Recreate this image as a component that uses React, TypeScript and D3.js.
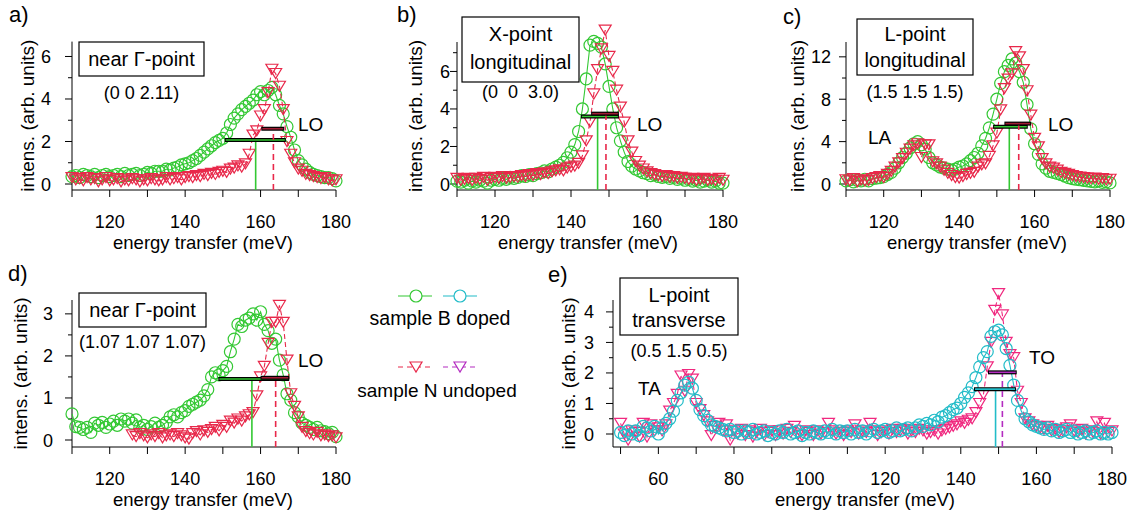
import React from 'react';
import * as d3 from 'd3';

// no serif face is installed, so a sans with Arial metrics stands in for Times
const FONT = "'Liberation Sans', Arial, sans-serif";
const GREEN = '#33c833';
const RED = '#e8284a';
const CYAN = '#22bcc8';
const PINK = '#f0287f';
const PURPLE = '#b42cc0';

// scan energies (meV)
const scanHigh = [110, 111, 112, 113, 114, 115, 116, 117, 118, 119, 120, 121, 122, 123, 124, 125, 126, 127, 128, 129,
  130, 131, 132, 133, 134, 135, 136, 137, 138, 139, 140, 141, 142, 143, 144, 145, 146, 147, 148, 149,
  150, 151, 152, 153, 154, 155, 156, 157, 158, 159, 160, 161, 162, 163, 164, 165, 166, 167, 168, 169,
  170, 171, 172, 173, 174, 175, 176, 177, 178, 179, 180];
const scanWide = [50, 51, 52, 53, 54, 55, 56, 57, 58, 59, 60, 61, 62, 63, 64, 65, 66, 67, 68, 69,
  70, 71, 72, 73, 74, 75, 76, 77, 78, 79, 80, 81, 82, 83, 84, 85, 86, 87, 88, 89,
  90, 91, 92, 93, 94, 95, 96, 97, 98, 99, 100, 101, 102, 103, 104, 105, 106, 107, 108, 109,
  ...scanHigh];

// a) near Gamma (0 0 2.11)
const aDoped = [0.35, 0.4, 0.3, 0.45, 0.4, 0.35, 0.45, 0.3, 0.4, 0.45,
  0.35, 0.4, 0.45, 0.35, 0.5, 0.4, 0.45, 0.5, 0.4, 0.45,
  0.55, 0.5, 0.6, 0.6, 0.6, 0.7, 0.66, 0.75, 0.8, 0.9,
  0.95, 1.0, 1.1, 1.2, 1.35, 1.5, 1.65, 1.8, 1.95, 2.05,
  2.15, 2.4, 2.8, 3.1, 3.3, 3.5, 3.65, 3.8, 3.95, 4.2,
  4.35, 4.2, 4.4, 4.55, 4.2, 3.7, 3.3, 2.7, 2.2, 1.6,
  1.1, 0.9, 0.7, 0.55, 0.45, 0.4, 0.35, 0.3, 0.3, 0.25,
  0.15];
const aUndoped = [0.3, 0.2, 0.25, 0.15, 0.3, 0.2, 0.25, 0.1, 0.2, 0.3,
  0.15, 0.2, 0.25, 0.1, 0.2, 0.15, 0.25, 0.2, 0.1, 0.2,
  0.15, 0.25, 0.2, 0.15, 0.2, 0.3, 0.2, 0.25, 0.3, 0.2,
  0.3, 0.35, 0.3, 0.4, 0.35, 0.45, 0.4, 0.5, 0.45, 0.55,
  0.6, 0.55, 0.7, 0.75, 0.85, 0.8, 0.95, 1.4, 2.3, 2.5,
  3.2, 3.5, 4.3, 5.4, 5.2, 4.6, 3.5, 2.0, 1.4, 1.0,
  0.7, 0.6, 0.45, 0.4, 0.35, 0.3, 0.25, 0.3, 0.2, 0.15,
  0.2];
// [from, to, height] of the width bars, and fitted peak energies (doped, undoped)
const aWidths = [[150.5, 166.7, 2.07], [160.2, 166.3, 2.6]];
const aPeaks = [158.7, 163.4];

// b) X-point longitudinal (0 0 3.0)
const bDoped = [0.15, 0.1, 0.2, 0.05, 0.15, 0.1, 0.2, 0.15, 0.05, 0.2,
  0.25, 0.2, 0.3, 0.25, 0.35, 0.3, 0.35, 0.45, 0.4, 0.5,
  0.45, 0.55, 0.6, 0.7, 0.65, 0.8, 0.9, 1.0, 1.15, 1.4,
  1.7, 2.1, 2.8, 4.0, 5.6, 7.4, 7.6, 7.5, 7.3, 6.4,
  5.2, 4.0, 3.0, 2.3, 1.7, 1.2, 0.95, 0.8, 0.7, 0.6,
  0.55, 0.45, 0.5, 0.4, 0.35, 0.4, 0.3, 0.35, 0.25, 0.3,
  0.2, 0.25, 0.15, 0.2, 0.1, 0.15, 0.2, 0.1, 0.15, 0.05,
  0.05];
const bUndoped = [0.3, 0.2, 0.25, 0.3, 0.2, 0.3, 0.25, 0.35, 0.2, 0.3,
  0.35, 0.3, 0.4, 0.3, 0.35, 0.4, 0.35, 0.45, 0.4, 0.5,
  0.45, 0.55, 0.5, 0.6, 0.55, 0.65, 0.7, 0.75, 0.7, 0.85,
  0.9, 0.95, 1.1, 1.5, 2.3, 3.3, 4.8, 6.1, 7.2, 8.2,
  6.8, 6.0, 5.0, 4.1, 3.3, 2.3, 1.7, 1.2, 0.95, 0.8,
  0.65, 0.55, 0.5, 0.45, 0.4, 0.45, 0.35, 0.4, 0.3, 0.35,
  0.3, 0.25, 0.3, 0.2, 0.25, 0.3, 0.2, 0.25, 0.2, 0.3,
  0.2];
const bWidths = [[142.6, 152.6, 3.6], [145.3, 152.6, 3.75]];
const bPeaks = [147, 149.2];

// c) L-point longitudinal (1.5 1.5 1.5)
const cDoped = [0.3, 0.4, 0.2, 0.35, 0.3, 0.45, 0.3, 0.5, 0.55, 0.6,
  0.7, 0.9, 1.1, 1.5, 2.0, 2.5, 2.9, 3.4, 3.8, 4.0,
  3.7, 3.3, 2.5, 2.0, 1.8, 1.6, 1.5, 1.4, 1.3, 1.4,
  1.6, 1.7, 1.9, 2.2, 2.5, 2.9, 3.6, 4.3, 5.3, 6.6,
  8.0, 9.5, 10.6, 11.2, 11.8, 11.4, 10.6, 9.6, 7.5, 5.2,
  3.8, 2.8, 1.9, 1.5, 1.2, 1.1, 1.0, 0.9, 0.75, 0.6,
  0.5, 0.45, 0.4, 0.35, 0.3, 0.25, 0.2, 0.3, 0.15, 0.2,
  0.1];
const cUndoped = [0.4, 0.3, 0.5, 0.2, 0.4, 0.3, 0.35, 0.5, 0.6, 0.7,
  0.6, 0.9, 1.2, 1.6, 2.0, 2.4, 2.9, 3.3, 3.6, 3.8,
  2.5, 3.7, 3.7, 2.1, 1.9, 1.6, 1.3, 1.0, 0.8, 0.6,
  0.55, 0.7, 0.9, 1.0, 1.1, 1.6, 1.8, 1.9, 2.6, 3.6,
  4.8, 7.0, 9.0, 9.9, 10.4, 12.5, 12.0, 10.8, 8.8, 6.5,
  4.3, 3.5, 2.4, 1.9, 1.6, 1.5, 1.3, 1.1, 1.0, 0.9,
  0.8, 0.7, 0.65, 0.6, 0.55, 0.5, 0.55, 0.45, 0.5, 0.4,
  0.45];
const cWidths = [[149, 158.2, 5.4], [152, 159.1, 5.7]];
const cPeaks = [153.3, 155.8];

// d) near Gamma (1.07 1.07 1.07); undoped scan starts at 126 meV
const dDoped = [0.62, 0.32, 0.3, 0.25, 0.3, 0.18, 0.4, 0.35, 0.42, 0.3,
  0.38, 0.45, 0.35, 0.5, 0.45, 0.5, 0.4, 0.48, 0.3, 0.35,
  0.25, 0.32, 0.4, 0.3, 0.35, 0.42, 0.55, 0.6, 0.55, 0.65,
  0.7, 0.8, 0.85, 0.9, 0.95, 1.05, 1.2, 1.5, 1.6, 1.55,
  1.65, 1.75, 2.1, 2.4, 2.75, 2.7, 2.85, 2.9, 3.0, 2.85,
  3.05, 2.75, 2.6, 2.3, 2.4, 1.9, 1.55, 1.1, 0.95, 0.65,
  0.55, 0.4, 0.35, 0.3, 0.25, 0.3, 0.22, 0.2, 0.15, 0.18,
  0.08];
const dUndoped = [0.12, 0.08, 0.15, 0.1,
  0.05, 0.12, 0.08, 0.15, 0.05, 0.1, 0.12, 0.08, 0.15, 0.1,
  0.05, 0.02, 0.15, 0.2, 0.12, 0.22, 0.18, 0.25, 0.3, 0.22,
  0.35, 0.3, 0.45, 0.4, 0.5, 0.45, 0.55, 0.6, 0.65, 1.05,
  1.5, 1.75, 2.3, 2.8, 2.8, 3.2, 2.8, 1.9, 1.1, 0.8,
  0.55, 0.3, 0.2, 0.15, 0.12, 0.18, 0.1, 0.12, 0.08, 0.1,
  0.05];
const dWidths = [[148.8, 167.6, 1.45], [160, 167.6, 1.48]];
const dPeaks = [157.7, 164];

// e) L-point transverse (0.5 1.5 0.5)
const eDoped = [0.05, -0.05, 0.1, 0.0, 0.1, -0.05, 0.25, 0.2, 0.1, 0.25,
  0.0, 0.2, 0.35, 0.5, 0.75, 1.1, 1.35, 1.6, 1.7, 1.5,
  1.1, 0.8, 0.6, 0.45, 0.3, 0.25, 0.2, 0.15, 0.1, 0.15,
  0.05, 0.1, 0.0, 0.1, 0.05, 0.15, 0.0, 0.05, 0.1, -0.05,
  0.05, 0.0, 0.1, 0.05, 0.15, 0.0, 0.05, 0.1, -0.05, 0.05,
  0.0, 0.1, 0.05, 0.0, 0.1, 0.05, 0.15, 0.0, 0.1, 0.05,
  0.1, 0.0, 0.15, 0.05, 0.1, 0.0, 0.1, 0.15, 0.05, 0.1,
  0.15, 0.05, 0.1, 0.2, 0.1, 0.15, 0.2, 0.1, 0.2, 0.3,
  0.25, 0.35, 0.3, 0.45, 0.4, 0.55, 0.6, 0.7, 0.8, 0.85,
  1.0, 1.2, 1.35, 1.55, 1.85, 2.2, 2.5, 2.7, 3.2, 3.35,
  3.4, 3.25, 2.8, 2.25, 1.6, 1.1, 0.75, 0.5, 0.4, 0.3,
  0.25, 0.2, 0.15, 0.2, 0.1, 0.15, 0.05, 0.1, 0.15, 0.05,
  0.1, 0.0, 0.05, 0.1, 0.0, 0.05, 0.1, 0.0, 0.05, 0.0,
  0.05];
const eUndoped = [0.35, 0.0, -0.2, 0.1, 0.05, -0.1, 0.35, -0.1, 0.3, 0.1,
  0.2, 0.1, 0.3, 0.75, 1.0, 1.3, 1.9, 1.4, 1.95, 1.8,
  1.0, 0.8, 0.6, 0.4, -0.05, 0.25, 0.35, 0.1, 0.3, -0.2,
  0.1, 0.0, 0.15, -0.05, 0.1, -0.1, 0.05, 0.15, -0.05, 0.05,
  0.1, -0.05, 0.1, 0.0, 0.15, 0.05, 0.25, 0.0, -0.05, 0.1,
  0.05, -0.05, 0.1, 0.0, 0.05, 0.35, 0.1, 0.0, 0.05, -0.05,
  0.1, 0.05, 0.3, 0.0, 0.1, 0.05, 0.35, 0.1, -0.05, 0.05,
  0.1, 0.0, 0.15, 0.05, 0.1, 0.15, 0.0, 0.1, 0.05, 0.15,
  0.1, 0.0, 0.05, 0.1, 0.0, 0.1, 0.15, 0.2, 0.25, 0.3,
  0.4, 0.35, 0.45, 0.5, 0.7, 1.0, 1.3, 2.2, 3.0, 4.05,
  4.6, 3.9, 3.0, 2.6, 2.5, 1.4, 1.0, 0.5, 0.4, 0.3,
  0.25, 0.2, 0.15, 0.25, 0.1, 0.15, 0.05, 0.1, 0.2, 0.3,
  0.1, 0.05, 0.15, 0.0, 0.1, 0.05, 0.4, 0.0, 0.35, 0.05,
  0.1];
const eWidths = [[143.5, 154.6, 1.47], [147.2, 154.8, 2.02]];
const ePeaks = [149.2, 151];

const tickHigh = [110, 120, 130, 140, 150, 160, 170, 180];
const labelHigh = [120, 140, 160, 180];
const tickWide = [50, 60, 70, 80, 90, 100, 110, 120, 130, 140, 150, 160, 170, 180];
const labelWide = [60, 80, 100, 120, 140, 160, 180];

type Series = { e: number[]; v: number[]; marker: 'circle' | 'tri'; color: string; dashed: boolean };
type Note = { text: string; x: number; y: number };

interface PanelSpec {
  tag: string; tagX: number; tagY: number;
  xDomain: [number, number]; xRange: [number, number];
  yDomain: [number, number]; yRange: [number, number];
  axisY: number;
  xTicks: number[]; xLabels: number[];
  yMajor: number[]; yMinor: number[];
  yLabelEnd: number; yTitleX: number;
  tickLabelY: number; xTitleX: number; xTitleY: number;
  series: Series[];
  widths: number[][]; peaks: number[]; barColors: string[]; lineColors: string[];
  box: [number, number, number, number]; boxLines: string[]; boxBase: number[];
  hkl: string; hklY: number;
  notes: Note[];
}

const triPath = 'M-6,-5L6,-5L0,5Z';

function Panel({ p }: { p: PanelSpec }) {
  const x = d3.scaleLinear().domain(p.xDomain).range(p.xRange);
  const y = d3.scaleLinear().domain(p.yDomain).range(p.yRange);
  const yTop = p.yRange[1];
  const boxCx = p.box[0] + p.box[2] / 2;
  return (
    <g>
      <text x={p.tagX} y={p.tagY} fontSize={22}>{p.tag}</text>
      {/* axes */}
      <line x1={p.xRange[0]} x2={p.xRange[0]} y1={yTop} y2={p.axisY} stroke="#000" />
      <line x1={p.xRange[0]} x2={p.xRange[1]} y1={p.axisY} y2={p.axisY} stroke="#000" />
      {p.xTicks.map((t) => (
        <line key={'xt' + t} x1={x(t)} x2={x(t)} y1={p.axisY} y2={p.axisY + 7} stroke="#000" />
      ))}
      {p.xLabels.map((t) => (
        <text key={'xl' + t} x={x(t)} y={p.tickLabelY} fontSize={18} textAnchor="middle">{t}</text>
      ))}
      {p.yMajor.map((t) => (
        <g key={'ym' + t}>
          <line x1={p.xRange[0] - 7} x2={p.xRange[0]} y1={y(t)} y2={y(t)} stroke="#000" />
          <text x={p.yLabelEnd} y={y(t) + 6.5} fontSize={18} textAnchor="end">{t}</text>
        </g>
      ))}
      {p.yMinor.map((t) => (
        <line key={'yn' + t} x1={p.xRange[0] - 4} x2={p.xRange[0]} y1={y(t)} y2={y(t)} stroke="#000" />
      ))}
      <text x={p.xTitleX} y={p.xTitleY} fontSize={18.5} textAnchor="middle">energy transfer (meV)</text>
      <text transform={`translate(${p.yTitleX},${(yTop + p.axisY) / 2}) rotate(-90)`} fontSize={19}
        textAnchor="middle" dominantBaseline="central">intens. (arb. units)</text>

      {/* data */}
      {p.series.map((s, si) => {
        const pts = s.e.map((e, i) => [x(e), y(s.v[i])] as [number, number]);
        return (
          <g key={'s' + si}>
            <path d={d3.line()(pts) || ''} fill="none" stroke={s.color} strokeWidth={1.1}
              strokeDasharray={s.dashed ? '5,3' : undefined} />
            {pts.map(([px, py], i) => s.marker === 'circle'
              ? <circle key={i} cx={px} cy={py} r={6} fill="none" stroke={s.color} strokeWidth={1.2} />
              : <path key={i} d={triPath} transform={`translate(${px},${py})`} fill="none" stroke={s.color} strokeWidth={1.2} />)}
          </g>
        );
      })}

      {/* peak positions and widths */}
      {p.widths.map((w, i) => (
        <g key={'w' + i}>
          <line x1={x(p.peaks[i])} x2={x(p.peaks[i])} y1={p.axisY} y2={y(w[2])}
            stroke={p.lineColors[i]} strokeWidth={1.6} strokeDasharray={i === 1 ? '6,4' : undefined} />
          <line x1={x(w[0])} x2={x(w[1])} y1={y(w[2])} y2={y(w[2])} stroke="#000" strokeWidth={4} />
          <line x1={x(w[0]) + 1} x2={x(w[1]) - 1} y1={y(w[2])} y2={y(w[2])} stroke={p.barColors[i]} strokeWidth={1.6} />
        </g>
      ))}

      {/* annotation box */}
      <rect x={p.box[0]} y={p.box[1]} width={p.box[2]} height={p.box[3]} fill="#fff" stroke="#000" strokeWidth={1.2} />
      {p.boxLines.map((s, i) => (
        <text key={'bl' + i} x={boxCx} y={p.boxBase[i]} fontSize={20} textAnchor="middle">{s}</text>
      ))}
      <text x={boxCx} y={p.hklY} fontSize={18} textAnchor="middle" style={{ whiteSpace: 'pre' }}>{p.hkl}</text>
      {p.notes.map((n) => (
        <text key={n.text} x={n.x} y={n.y} fontSize={19}>{n.text}</text>
      ))}
    </g>
  );
}

const high = (vals: number[]) => scanHigh.slice(scanHigh.length - vals.length);

const panels: PanelSpec[] = [
  {
    tag: 'a)', tagX: 9, tagY: 22,
    xDomain: [110, 180], xRange: [72, 336], yDomain: [0, 6.7], yRange: [184, 41.6], axisY: 190,
    xTicks: tickHigh, xLabels: labelHigh, yMajor: [0, 2, 4, 6], yMinor: [1, 3, 5],
    yLabelEnd: 51, yTitleX: 27, tickLabelY: 228, xTitleX: 203, xTitleY: 249,
    series: [
      { e: high(aDoped), v: aDoped, marker: 'circle', color: GREEN, dashed: false },
      { e: high(aUndoped), v: aUndoped, marker: 'tri', color: RED, dashed: true },
    ],
    widths: aWidths, peaks: aPeaks, barColors: [GREEN, '#a01c34'], lineColors: [GREEN, RED],
    box: [79, 42, 125, 34], boxLines: ['near Γ-point'], boxBase: [66],
    hkl: '(0 0 2.11)', hklY: 99,
    notes: [{ text: 'LO', x: 298, y: 131 }],
  },
  {
    tag: 'b)', tagX: 397, tagY: 22,
    xDomain: [110, 180], xRange: [457, 723], yDomain: [0, 7.57], yRange: [184, 42], axisY: 190,
    xTicks: tickHigh, xLabels: labelHigh, yMajor: [0, 2, 4, 6], yMinor: [1, 3, 5, 7],
    yLabelEnd: 450, yTitleX: 415, tickLabelY: 228, xTitleX: 588, xTitleY: 249,
    series: [
      { e: high(bDoped), v: bDoped, marker: 'circle', color: GREEN, dashed: false },
      { e: high(bUndoped), v: bUndoped, marker: 'tri', color: RED, dashed: true },
    ],
    widths: bWidths, peaks: bPeaks, barColors: [GREEN, '#a01c34'], lineColors: [GREEN, RED],
    box: [462, 17, 117, 65], boxLines: ['X-point', 'longitudinal'], boxBase: [41, 69],
    hkl: '(0  0  3.0)', hklY: 98,
    notes: [{ text: 'LO', x: 637, y: 131 }],
  },
  {
    tag: 'c)', tagX: 783, tagY: 24,
    xDomain: [110, 180], xRange: [846, 1110], yDomain: [0, 13.4], yRange: [184, 42], axisY: 190,
    xTicks: tickHigh, xLabels: labelHigh, yMajor: [0, 4, 8, 12], yMinor: [2, 6, 10],
    yLabelEnd: 831, yTitleX: 797, tickLabelY: 228, xTitleX: 977, xTitleY: 249,
    series: [
      { e: high(cDoped), v: cDoped, marker: 'circle', color: GREEN, dashed: false },
      { e: high(cUndoped), v: cUndoped, marker: 'tri', color: RED, dashed: true },
    ],
    widths: cWidths, peaks: cPeaks, barColors: [GREEN, '#a01c34'], lineColors: [GREEN, RED],
    box: [857, 19, 116, 56], boxLines: ['L-point', 'longitudinal'], boxBase: [41, 67],
    hkl: '(1.5 1.5 1.5)', hklY: 98,
    notes: [{ text: 'LA', x: 868, y: 144 }, { text: 'LO', x: 1048, y: 131 }],
  },
  {
    tag: 'd)', tagX: 8, tagY: 281,
    xDomain: [110, 180], xRange: [72, 336], yDomain: [0, 3.33], yRange: [440, 300], axisY: 447,
    xTicks: tickHigh, xLabels: labelHigh, yMajor: [0, 1, 2, 3], yMinor: [0.5, 1.5, 2.5],
    yLabelEnd: 53, yTitleX: 20, tickLabelY: 485, xTitleX: 203, xTitleY: 506,
    series: [
      { e: high(dDoped), v: dDoped, marker: 'circle', color: GREEN, dashed: false },
      { e: high(dUndoped), v: dUndoped, marker: 'tri', color: RED, dashed: true },
    ],
    widths: dWidths, peaks: dPeaks, barColors: [GREEN, '#a01c34'], lineColors: [GREEN, RED],
    box: [79, 293, 127, 34], boxLines: ['near Γ-point'], boxBase: [317],
    hkl: '(1.07 1.07 1.07)', hklY: 348,
    notes: [{ text: 'LO', x: 298, y: 367 }],
  },
  {
    tag: 'e)', tagX: 548, tagY: 282,
    xDomain: [48, 180], xRange: [613, 1112], yDomain: [0, 4.39], yRange: [434, 300], axisY: 447,
    xTicks: tickWide, xLabels: labelWide, yMajor: [0, 1, 2, 3, 4], yMinor: [0.5, 1.5, 2.5, 3.5],
    yLabelEnd: 594, yTitleX: 568, tickLabelY: 485, xTitleX: 865, xTitleY: 506,
    series: [
      { e: scanWide, v: eUndoped, marker: 'tri', color: PINK, dashed: true },
      { e: scanWide, v: eDoped, marker: 'circle', color: CYAN, dashed: false },
    ],
    widths: eWidths, peaks: ePeaks, barColors: [CYAN, PURPLE], lineColors: [CYAN, PURPLE],
    box: [620, 278, 118, 57], boxLines: ['L-point', 'transverse'], boxBase: [302, 327],
    hkl: '(0.5 1.5 0.5)', hklY: 357,
    notes: [{ text: 'TA', x: 638, y: 395 }, { text: 'TO', x: 1029, y: 364 }],
  },
];

function Legend() {
  return (
    <g>
      <line x1={398} x2={432} y1={296} y2={296} stroke={GREEN} strokeWidth={1.2} />
      <circle cx={416} cy={296} r={6} fill="#fff" stroke={GREEN} strokeWidth={1.2} />
      <line x1={443} x2={477} y1={296} y2={296} stroke={CYAN} strokeWidth={1.2} />
      <circle cx={460} cy={296} r={6} fill="#fff" stroke={CYAN} strokeWidth={1.2} />
      <text x={440} y={325} fontSize={19.5} textAnchor="middle">sample B doped</text>
      <line x1={398} x2={432} y1={367} y2={367} stroke={RED} strokeWidth={1.2} strokeDasharray="5,4" />
      <path d={triPath} transform="translate(416,367)" fill="#fff" stroke={RED} strokeWidth={1.2} />
      <line x1={443} x2={477} y1={367} y2={367} stroke={PURPLE} strokeWidth={1.2} strokeDasharray="5,4" />
      <path d={triPath} transform="translate(460,367)" fill="#fff" stroke={PURPLE} strokeWidth={1.2} />
      <text x={437} y={397} fontSize={19} textAnchor="middle">sample N undoped</text>
    </g>
  );
}

export default function App() {
  return (
    <svg width={1129} height={512} style={{ position: 'absolute', left: 0, top: 0, background: '#fff', fontFamily: FONT }}>
      <rect width={1129} height={512} fill="#fff" />
      {panels.map((p) => <Panel key={p.tag} p={p} />)}
      <Legend />
    </svg>
  );
}
